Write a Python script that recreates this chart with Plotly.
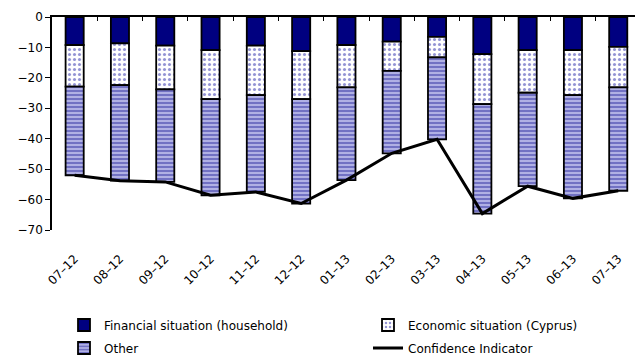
import plotly.graph_objects as go

months = ["07–12", "08–12", "09–12", "10–12", "11–12", "12–12", "01–13",
          "02–13", "03–13", "04–13", "05–13", "06–13", "07–13"]

# Contributions to the consumer confidence indicator (balance of replies)
financial_household = [-9.2, -8.7, -9.4, -10.9, -9.4, -11.2, -9.2,
                       -8.1, -6.5, -12.2, -10.9, -10.9, -9.8]
economic_cyprus = [-13.7, -13.7, -14.4, -16.1, -16.3, -15.8, -13.9,
                   -9.6, -6.8, -16.4, -14.0, -14.8, -13.3]
other = [-29.1, -31.4, -30.4, -31.6, -31.8, -34.3, -30.5,
         -27.1, -26.9, -36.0, -30.7, -33.9, -34.0]
confidence_indicator = [-52.0, -53.8, -54.2, -58.6, -57.5, -61.3, -53.6,
                        -44.8, -40.2, -64.6, -55.6, -59.6, -57.1]

y_ticks = [0, -10, -20, -30, -40, -50, -60, -70]

FONT = "DejaVu Sans"
NAVY = "#000080"
bar_line = dict(color="black", width=1.8)
BAR_W = 0.40

fig = go.Figure()

fig.add_trace(go.Bar(
    x=months, y=financial_household, name="Financial situation (household)",
    width=BAR_W, marker=dict(color=NAVY, line=bar_line), legend="legend",
))
fig.add_trace(go.Bar(
    x=months, y=economic_cyprus, name="Economic situation (Cyprus)",
    width=BAR_W,
    marker=dict(color="white", line=bar_line,
                pattern=dict(shape=".", fgcolor="#2a2aa8", bgcolor="white",
                             size=5, solidity=0.3)),
    legend="legend2",
))
fig.add_trace(go.Bar(
    x=months, y=other, name="Other", width=BAR_W,
    marker=dict(color="#a8a8e0", line=bar_line,
                pattern=dict(shape="-", fgcolor="#22229c", bgcolor="#b0b0e4",
                             size=4, solidity=0.45)),
    legend="legend3",
))
fig.add_trace(go.Scatter(
    x=months, y=confidence_indicator, name="Confidence Indicator",
    mode="lines", line=dict(color="black", width=3), legend="legend4",
))

# Invisible trace carrying the zero line with boundary ticks at the top
fig.add_trace(go.Scatter(
    x=months, y=[None] * len(months), xaxis="x2", showlegend=False,
    hoverinfo="skip",
))

x_range = [-0.5, 12.37]
legend_common = dict(
    orientation="h", xanchor="left", yanchor="middle", itemwidth=30,
    xref="container", yref="container",
    font=dict(family=FONT, size=12, color="black"),
    bgcolor="rgba(0,0,0,0)",
)
# Legend placement in container fractions (two columns, two rows)
COL1, COL2 = 64 / 635, 368 / 635
ROW1, ROW2 = 1 - 325 / 358, 1 - 348 / 358

fig.update_layout(
    width=635, height=358,
    margin=dict(l=52, r=0, t=17, b=128, autoexpand=False),
    barmode="relative",
    plot_bgcolor="white", paper_bgcolor="white",
    font=dict(family=FONT, size=12, color="black"),
    showlegend=True,
    xaxis=dict(
        range=x_range, type="category", showline=False, showgrid=False,
        ticks="outside", ticklen=16, tickcolor="rgba(0,0,0,0)",
        tickangle=-45, tickfont=dict(family=FONT, size=12),
        fixedrange=True, automargin=False,
    ),
    xaxis2=dict(
        range=x_range, type="category", overlaying="x", side="top",
        anchor="y", showline=True, linecolor="black", linewidth=2,
        ticks="inside", ticklen=4, tickcolor="black", tickwidth=1.2,
        tickson="boundaries", showticklabels=False, showgrid=False,
        automargin=False,
    ),
    yaxis=dict(
        range=[-70, 0], tickvals=y_ticks, showgrid=False, zeroline=False,
        showline=True, linecolor="black", linewidth=1.5,
        ticks="outside", ticklen=5, tickcolor="black",
        tickfont=dict(family=FONT, size=12), automargin=False,
    ),
    legend=dict(x=COL1, y=ROW1, **legend_common),
    legend2=dict(x=COL2, y=ROW1, **legend_common),
    legend3=dict(x=COL1, y=ROW2, **legend_common),
    legend4=dict(x=COL2, y=ROW2, **legend_common),
)

fig.write_html("out.html")
